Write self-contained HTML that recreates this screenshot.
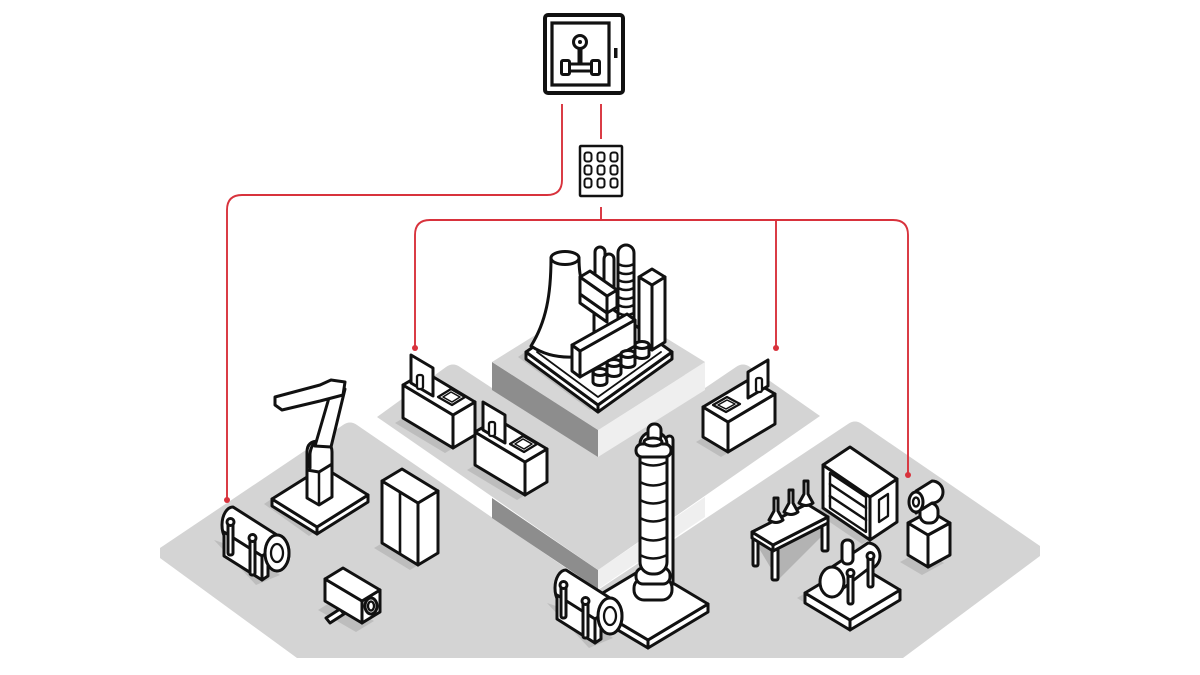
<!DOCTYPE html>
<html><head><meta charset="utf-8">
<style>
html,body{margin:0;padding:0;background:#fff;}
svg{display:block;}
.o{fill:#fff;stroke:#111;stroke-width:3;stroke-linejoin:round;stroke-linecap:round;}
.t{fill:#fff;stroke:#111;stroke-width:2.3;stroke-linejoin:round;stroke-linecap:round;}
.n{fill:none;stroke:#111;stroke-width:2.5;stroke-linejoin:round;stroke-linecap:round;}
.s{fill:#bdbdbd;}
.r{fill:none;stroke:#d8323c;stroke-width:1.9;}
</style></head>
<body>
<svg width="1200" height="675" viewBox="0 0 1200 675" xmlns="http://www.w3.org/2000/svg">
<!-- base floor -->
<path d="M160,548 L343,425 Q350,420 357,425 L598,590 L848,424 Q855,419 862,424 L1040,546 L1040,556 L903,658 L297,658 L160,558 Z" fill="#d4d4d4"/>
<!-- mid tier faces -->
<polygon points="492,498 598,570 598,589 492,518" fill="#8d8d8d"/>
<polygon points="598,570 705,497 705,517 598,589" fill="#efefef"/>
<!-- mid tier top -->
<path d="M377,417 L446,367 Q453,362 460,367 L492,388 L598,318 L705,388 L736,367 Q743,362 750,367 L820,416 L598,570 Z" fill="#d4d4d4"/>
<!-- top platform -->
<polygon points="492,362 598,430 598,457 492,390" fill="#8d8d8d"/>
<polygon points="598,430 705,362 705,390 598,457" fill="#efefef"/>
<polygon points="492,362 598,296 705,362 598,430" fill="#d6d6d6"/>

<!-- red connectors -->
<path class="r" d="M562,104 L562,180 Q562,195 547,195 L242,195 Q227,195 227,210 L227,500"/>
<path class="r" d="M601,104 L601,139"/>
<path class="r" d="M601,207 L601,220"/>
<path class="r" d="M415,348 L415,235 Q415,220 430,220 L893,220 Q908,220 908,235 L908,475"/>
<path class="r" d="M776,220 L776,348"/>
<circle cx="227" cy="500" r="3" fill="#d8323c"/>
<circle cx="415" cy="348" r="3" fill="#d8323c"/>
<circle cx="776" cy="348" r="3" fill="#d8323c"/>
<circle cx="908" cy="475" r="3" fill="#d8323c"/>

<!-- tablet -->
<rect x="545" y="15" width="78" height="78" rx="3" fill="#fff" stroke="#111" stroke-width="4"/>
<rect x="552" y="23" width="57" height="62" fill="#fff" stroke="#111" stroke-width="3.2"/>
<rect x="614" y="48" width="3.5" height="10" fill="#111"/>
<circle cx="580" cy="42" r="6.5" fill="#fff" stroke="#111" stroke-width="3"/>
<circle cx="580" cy="42" r="2" fill="#111"/>
<line x1="580" y1="48" x2="580" y2="63" stroke="#111" stroke-width="5"/>
<rect x="561.5" y="60.5" width="8" height="14" rx="1.5" fill="#fff" stroke="#111" stroke-width="3"/>
<rect x="591.5" y="60.5" width="8" height="14" rx="1.5" fill="#fff" stroke="#111" stroke-width="3"/>
<rect x="569.5" y="64" width="22" height="7" fill="#fff" stroke="#111" stroke-width="3"/>

<!-- keypad -->
<rect x="580" y="146" width="42" height="50" rx="1" fill="#fff" stroke="#111" stroke-width="2.5"/>
<g fill="#fff" stroke="#111" stroke-width="2">
<rect x="584.5" y="152.5" width="7" height="9" rx="2.5"/><rect x="597.5" y="152.5" width="7" height="9" rx="2.5"/><rect x="610.5" y="152.5" width="7" height="9" rx="2.5"/>
<rect x="584.5" y="165.5" width="7" height="9" rx="2.5"/><rect x="597.5" y="165.5" width="7" height="9" rx="2.5"/><rect x="610.5" y="165.5" width="7" height="9" rx="2.5"/>
<rect x="584.5" y="178.5" width="7" height="9" rx="2.5"/><rect x="597.5" y="178.5" width="7" height="9" rx="2.5"/><rect x="610.5" y="178.5" width="7" height="9" rx="2.5"/>
</g>

<!-- factory on top platform -->
<polygon class="s" points="518,357 590,410 664,357 592,305"/>
<polygon class="o" points="526,352 598,405 598,412 526,359"/>
<polygon class="o" points="598,405 672,352 672,359 598,412"/>
<polygon class="o" points="598,405 526,352 600,300 672,352"/>
<polyline class="n" points="537,352 598,397 661,352" style="stroke-width:1.8"/>
<!-- chimneys -->
<rect class="o" x="595" y="247" width="10" height="60" rx="5"/>
<rect class="o" x="604" y="254" width="10" height="55" rx="5"/>
<!-- striped column -->
<rect class="o" x="618" y="245" width="16" height="85" rx="8"/>
<path class="n" d="M618,264 Q626,268 634,264 M618,272 Q626,276 634,272 M618,280 Q626,284 634,280 M618,288 Q626,292 634,288 M618,297 Q626,301 634,297 M618,305 Q626,309 634,305 M618,313 Q626,317 634,313"/>
<!-- cooling tower -->
<path class="o" d="M551,258 C551,295 546,322 531,346 Q556,363 594,354 L594,300 C583,290 579,280 579,258 Z"/>
<ellipse class="o" cx="565" cy="258" rx="14" ry="6.5"/>
<!-- sloped building -->
<polygon class="o" points="580,294 607,313 607,322 580,303"/>
<polygon class="o" points="580,277 607,296 607,313 580,294"/>
<polygon class="o" points="607,296 617,290 617,307 607,313"/>
<polygon class="o" points="580,277 590,271 617,290 607,296"/>
<!-- box tower -->
<polygon class="o" points="639,277 652,285 652,350 639,342"/>
<polygon class="o" points="652,285 665,277 665,342 652,350"/>
<polygon class="o" points="639,277 652,269 665,277 652,285"/>
<!-- long box -->
<polygon class="o" points="572,345 580,351 580,377 572,371"/>
<polygon class="o" points="580,351 635,320 635,346 580,377"/>
<polygon class="o" points="572,345 627,314 635,320 580,351"/>
<!-- small cylinders -->
<g>
<path class="o" d="M593,372 L593,382 A7,3.5 0 0 0 607,382 L607,372 Z"/><ellipse class="o" cx="600" cy="372" rx="7" ry="3.5"/>
<path class="o" d="M607,363 L607,373 A7,3.5 0 0 0 621,373 L621,363 Z"/><ellipse class="o" cx="614" cy="363" rx="7" ry="3.5"/>
<path class="o" d="M621,354 L621,364 A7,3.5 0 0 0 635,364 L635,354 Z"/><ellipse class="o" cx="628" cy="354" rx="7" ry="3.5"/>
<path class="o" d="M635,345 L635,355 A7,3.5 0 0 0 649,355 L649,345 Z"/><ellipse class="o" cx="642" cy="345" rx="7" ry="3.5"/>
</g>

<!-- Table A (left wing, back) -->
<g id="tableA">
<polygon class="s" points="395,423 445,453 467,440 417,410"/>
<polygon class="o" points="403,385 453,415 453,448 403,418"/>
<polygon class="o" points="453,415 475,402 475,435 453,448"/>
<polygon class="o" points="453,415 403,385 425,372 475,402"/>
<polygon class="o" points="411,383 411,355 433,368 433,396"/>
<rect class="t" x="417" y="375" width="6" height="14" rx="2"/>
<polygon class="t" points="438,397 451,389 465,397 452,405"/>
<polygon class="t" points="443,397 451,392 460,397 452,402" style="stroke-width:1.5"/>
</g>
<!-- Table B -->
<g transform="translate(72,47)">
<polygon class="s" points="395,423 445,453 467,440 417,410"/>
<polygon class="o" points="403,385 453,415 453,448 403,418"/>
<polygon class="o" points="453,415 475,402 475,435 453,448"/>
<polygon class="o" points="453,415 403,385 425,372 475,402"/>
<polygon class="o" points="411,383 411,355 433,368 433,396"/>
<rect class="t" x="417" y="375" width="6" height="14" rx="2"/>
<polygon class="t" points="438,397 451,389 465,397 452,405"/>
<polygon class="t" points="443,397 451,392 460,397 452,402" style="stroke-width:1.5"/>
</g>
<!-- Right wing table -->
<polygon class="s" points="696,442 721,457 768,429 743,414"/>
<polygon class="o" points="703,407 728,422 728,452 703,437"/>
<polygon class="o" points="728,422 775,394 775,424 728,452"/>
<polygon class="o" points="728,422 703,407 750,379 775,394"/>
<polygon class="o" points="748,398 748,372 768,360 768,386"/>
<rect class="t" x="756" y="378" width="6" height="14" rx="2"/>
<polygon class="t" points="713,405 727,397 740,404 726,412"/>
<polygon class="t" points="718,405 727,400 735,404 726,409" style="stroke-width:1.5"/>

<!-- Robot arm -->
<polygon class="s" points="264,504 309,536 360,500 315,470"/>
<polygon class="o" points="272,499 317,527 317,534 272,506"/>
<polygon class="o" points="317,527 368,495 368,502 317,534"/>
<polygon class="o" points="317,527 272,499 323,467 368,495"/>
<path class="o" d="M307,462 L307,498 L319,505 L332,497 L332,462 Z"/>
<line x1="319" y1="470" x2="319" y2="505" stroke="#111" stroke-width="2.5"/>
<path class="o" d="M307,470 L307,452 Q307,441 319,441 Q332,441 332,452 L332,464 L319,472 Z"/>
<path class="o" d="M319,441 Q311,443 310,454 L310,468"/>
<polygon class="o" points="315,446 331,447 345,389 333,384"/>
<polygon class="o" points="331,380 345,382 343,395 320,401 282,410 275,405 275,397 320,385"/>

<!-- Cabinet -->
<polygon class="s" points="374,548 410,570 430,558 394,536"/>
<polygon class="o" points="382,481 418,503 418,565 382,543"/>
<polygon class="o" points="418,503 438,491 438,553 418,565"/>
<polygon class="o" points="418,503 382,481 402,469 438,491"/>
<line x1="400" y1="492" x2="400" y2="554" stroke="#111" stroke-width="2.6"/>

<!-- Tank 1 -->
<g id="tank1">
<polygon class="s" points="214,540 256,585 280,575 238,548"/>
<path class="o" d="M233,507 L277,535 A12,18 0 0 1 277,571 L233,543 A11,18 0 0 1 233,507 Z"/>
<polygon class="o" points="224,532 262,556 262,580 224,556"/>
<polygon class="o" points="262,556 268,552 268,576 262,580"/>
<ellipse class="o" cx="277" cy="553" rx="12" ry="18"/>
<ellipse class="t" cx="277" cy="553" rx="6" ry="9"/>
<rect class="o" x="228" y="523" width="5" height="32" rx="2"/><circle class="o" cx="230.5" cy="522" r="3.5"/>
<rect class="o" x="250" y="539" width="5" height="36" rx="2"/><circle class="o" cx="252.5" cy="538" r="3.5"/>
</g>

<!-- Camera (left floor) -->
<polygon class="s" points="318,610 356,632 374,621 336,599"/>
<polygon class="o" points="326,618 340,609 344,614 330,623"/>
<polygon class="o" points="325,579 362,601 362,623 325,601"/>
<polygon class="o" points="362,601 380,590 380,612 362,623"/>
<polygon class="o" points="362,601 325,579 343,568 380,590"/>
<ellipse class="o" cx="371" cy="606" rx="6" ry="8"/>
<ellipse class="t" cx="371" cy="606" rx="3" ry="4.5"/>

<!-- Oven / shelf unit -->
<polygon class="s" points="815,512 862,544 889,527 842,495"/>
<polygon class="o" points="823,465 870,497 870,540 823,508"/>
<polygon class="o" points="870,497 897,479 897,522 870,540"/>
<polygon class="o" points="870,497 823,465 850,447 897,479"/>
<polygon class="t" points="830,473 866,497 866,532 830,508"/>
<path class="n" d="M830,484 L866,508 M830,496 L866,520"/>
<line x1="830" y1="473" x2="830" y2="508" stroke="#111" stroke-width="2.2"/>
<polygon class="t" points="879,500 888,494 888,516 879,522"/>

<!-- Lab table with flasks -->
<polygon points="757,545 810,515 830,528 778,580" fill="#b3b3b3"/>
<rect class="o" x="753" y="535" width="5" height="31" rx="1.5"/>
<rect class="o" x="772" y="548" width="6" height="32" rx="1.5"/>
<rect class="o" x="822" y="519" width="6" height="32" rx="1.5"/>
<polygon class="o" points="752,532 773,545 773,551 752,538"/>
<polygon class="o" points="773,545 828,517 828,523 773,551"/>
<polygon class="o" points="773,545 752,532 807,504 828,517"/>
<path class="o" d="M774,498 L774,511 L769,520 Q776,525 783,520 L778,511 L778,498 Z"/>
<path class="o" d="M789,490 L789,503 L784,512 Q791,517 798,512 L793,503 L793,490 Z"/>
<path class="o" d="M804,481 L804,494 L799,503 Q806,508 813,503 L808,494 L808,481 Z"/>

<!-- Camera on pedestal -->
<polygon class="s" points="900,562 922,575 944,563 922,550"/>
<polygon class="o" points="908,523 928,535 928,567 908,555"/>
<polygon class="o" points="928,535 950,523 950,555 928,567"/>
<polygon class="o" points="928,535 908,523 930,511 950,523"/>
<rect class="o" x="920" y="503" width="18" height="20" rx="8"/>
<path class="o" d="M916,491 L932,481 A11,11 0 0 1 932,503 L916,513 Z"/>
<ellipse class="o" cx="916" cy="502" rx="7" ry="10"/>
<ellipse class="t" cx="916" cy="502" rx="3" ry="4.5"/>

<!-- Boiler -->
<polygon class="s" points="797,598 842,626 892,596 847,568"/>
<polygon class="o" points="805,593 850,620 850,630 805,603"/>
<polygon class="o" points="850,620 900,590 900,600 850,630"/>
<polygon class="o" points="850,620 805,593 855,563 900,590"/>
<path class="o" d="M832,567 L868,543 A12,13 0 0 1 868,569 L832,597 Z"/>
<rect class="o" x="842" y="540" width="11" height="24" rx="5"/>
<ellipse class="o" cx="832" cy="582" rx="12" ry="15"/>
<rect class="o" x="848" y="574" width="5" height="30" rx="2"/><circle class="o" cx="850.5" cy="573" r="3.5"/>
<rect class="o" x="868" y="557" width="5" height="30" rx="2"/><circle class="o" cx="870.5" cy="556" r="3.5"/>

<!-- Distillation tower -->
<polygon class="s" points="578,608 640,645 700,609 638,572"/>
<polygon class="o" points="586,603 648,640 648,648 586,611"/>
<polygon class="o" points="648,640 708,604 708,612 648,648"/>
<polygon class="o" points="648,640 586,603 646,567 708,604"/>
<rect class="o" x="666" y="436" width="7" height="150" rx="3.5"/>
<rect class="o" x="634" y="578" width="38" height="22" rx="10"/>
<rect class="o" x="636" y="568" width="34" height="16" rx="7"/>
<rect class="o" x="640" y="432" width="27" height="142" rx="12"/>
<path class="n" d="M640,462 Q653,469 667,462 M640,482 Q653,489 667,482 M640,500 Q653,507 667,500 M640,518 Q653,525 667,518 M640,537 Q653,544 667,537 M640,555 Q653,562 667,555"/>
<rect class="o" x="636" y="444" width="35" height="13" rx="6"/>
<rect class="o" x="648" y="424" width="13" height="18" rx="6"/>
<ellipse class="o" cx="653" cy="442" rx="9" ry="4"/>

<!-- Tank 2 (near tower) -->
<g transform="translate(333,63)">
<polygon class="s" points="214,540 256,585 280,575 238,548"/>
<path class="o" d="M233,507 L277,535 A12,18 0 0 1 277,571 L233,543 A11,18 0 0 1 233,507 Z"/>
<polygon class="o" points="224,532 262,556 262,580 224,556"/>
<polygon class="o" points="262,556 268,552 268,576 262,580"/>
<ellipse class="o" cx="277" cy="553" rx="12" ry="18"/>
<ellipse class="t" cx="277" cy="553" rx="6" ry="9"/>
<rect class="o" x="228" y="523" width="5" height="32" rx="2"/><circle class="o" cx="230.5" cy="522" r="3.5"/>
<rect class="o" x="250" y="539" width="5" height="36" rx="2"/><circle class="o" cx="252.5" cy="538" r="3.5"/>
</g>
</svg>
</body></html>
